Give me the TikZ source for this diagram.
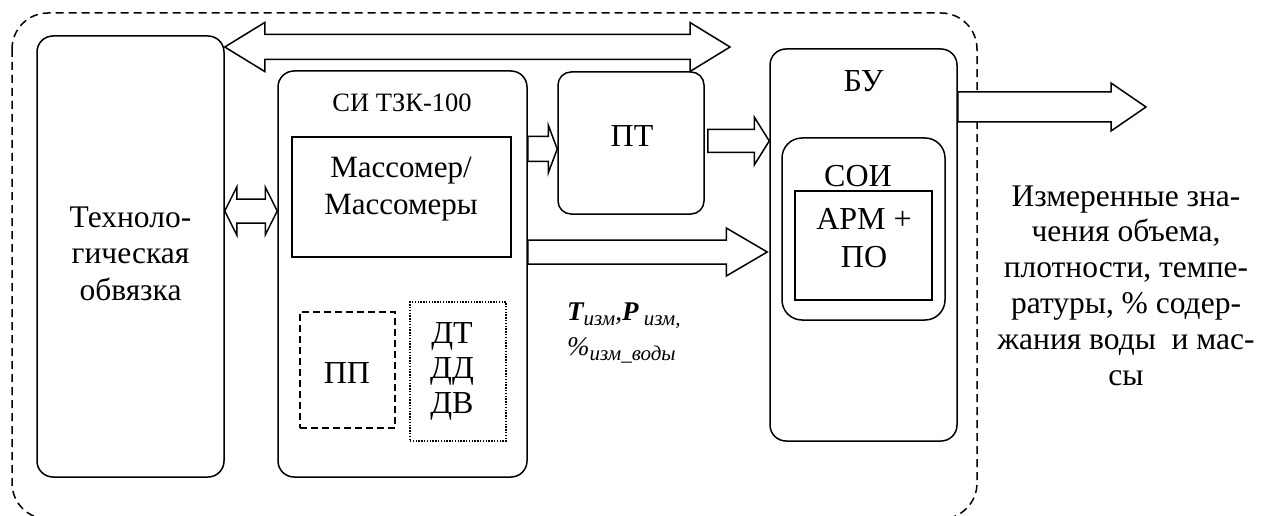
\documentclass[tikz,border=0pt]{standalone}
\usepackage{fontspec}
\setmainfont{Liberation Serif}
\usetikzlibrary{calc}
\newcommand{\fsz}[2]{\fontsize{#1}{#2}\selectfont}
% single block arrow: #1 tail point, #2 tip point, #3 shaft half width, #4 head half width, #5 head length
\newcommand{\harr}[5]{%
  \draw[arr] let \p1=#1, \p2=#2 in
    (\x1,\y2+#3) -- (\x2-#5,\y2+#3) -- (\x2-#5,\y2+#4) -- (\x2,\y2)
    -- (\x2-#5,\y2-#4) -- (\x2-#5,\y2-#3) -- (\x1,\y2-#3) -- cycle;}
% double block arrow
\newcommand{\dharr}[5]{%
  \draw[arr] let \p1=#1, \p2=#2 in
    (\x1,\y1) -- (\x1+#5,\y1+#4) -- (\x1+#5,\y1+#3) -- (\x2-#5,\y1+#3)
    -- (\x2-#5,\y1+#4) -- (\x2,\y1) -- (\x2-#5,\y1-#4) -- (\x2-#5,\y1-#3)
    -- (\x1+#5,\y1-#3) -- (\x1+#5,\y1-#4) -- cycle;}
\tikzset{
  rbox/.style={draw, line width=1.5pt, rounded corners=16pt, inner sep=0pt, fill=white},
  sqbox/.style={draw, line width=1.5pt, inner sep=0pt},
  arr/.style={draw, line width=1.5pt, fill=white, line join=miter, miter limit=10},
  lbl/.style={inner sep=0pt, align=center, anchor=base},
  outer/.style={draw, line width=1.5pt, dash pattern=on 8pt off 5pt, rounded corners=36pt},
}
\begin{document}
\begin{tikzpicture}[x=1pt,y=-1pt]
\useasboundingbox (0,0) rectangle (1264,516);
\clip (0,0) rectangle (1264,516);
% outer dashed border
\draw[outer] (12,13) rectangle (977,519);
% boxes
\node[rbox, minimum width=187pt, minimum height=441pt] (tech) at (130.5,256.5) {};
\node[rbox, minimum width=249pt, minimum height=406pt] (si) at (402.5,274) {};
\node[sqbox, minimum width=219pt, minimum height=120pt] (mass) at (401.5,197) {};
\node[draw, line width=1.5pt, dash pattern=on 7pt off 4pt, inner sep=0pt, minimum width=95pt, minimum height=116pt] (pp) at (347.5,370) {};
\node[draw, line width=1.3pt, dash pattern=on 1.4pt off 1.4pt, inner sep=0pt, minimum width=96pt, minimum height=139pt] (dt) at (458,371.5) {};
\node[rbox, rounded corners=13pt, minimum width=146pt, minimum height=142pt] (pt) at (631,143) {};
\node[rbox, minimum width=187pt, minimum height=392pt] (bu) at (863.5,245) {};
\node[rbox, rounded corners=20pt, minimum width=163pt, minimum height=182pt] (soi) at (863.5,229) {};
\node[sqbox, minimum width=137pt, minimum height=109pt] (arm) at (863.5,245.5) {};
% labels (multi-line nodes: base anchor = last line's baseline)
\node[lbl, font=\fsz{31.5}{36.5}] (techtxt) at (130.5,300) {Техноло-\\гическая\\обвязка};
\node[lbl, font=\fsz{26.5}{30}] (sitxt) at (402,112) {СИ ТЗК-100};
\node[lbl, font=\fsz{31}{36}] (masstxt) at (401,214) {Массомер/\\Массомеры};
\node[lbl, font=\fsz{32}{36}] (pptxt) at (347,383) {ПП};
\node[lbl, font=\fsz{32}{35}] (dttxt) at (452,413) {ДТ\\ДД\\ДВ};
\node[lbl, font=\fsz{32}{36}] (pttxt) at (632,147) {ПТ};
\node[lbl, font=\fsz{32}{36}] (butxt) at (863.5,92) {БУ};
\node[lbl, font=\fsz{32}{36}] (soitxt) at (858,186) {СОИ};
\node[lbl, font=\fsz{32}{38}] (armtxt) at (864,267) {АРМ +\\ПО};
\node[lbl, font=\fsz{31.5}{35.8}] (outtxt) at (1126,385) {Измеренные зна-\\чения объема,\\плотности, темпе-\\ратуры, \% содер-\\жания воды~ и мас-\\сы};
\node[inner sep=0pt, anchor=base west, align=left, font=\fsz{27}{35}\itshape] (meas) at (567,355)
  {\textbf{T}\raisebox{-5pt}{\fsz{21}{21}изм},\textbf{P}\raisebox{-5pt}{\fsz{21}{21} изм,}\\
   \%\raisebox{-5pt}{\fsz{21}{21}изм\_воды}};
% connectors
\coordinate (busend) at (730,47);
\coordinate (outend) at (1146,107);
\dharr{(tech.east |- 0,47)}{(busend)}{12.5pt}{24.5pt}{40pt}
\dharr{(tech.east |- 0,211)}{(si.west |- 0,211)}{12pt}{24pt}{12pt}
\harr{(si.east |- 0,149)}{(pt.west |- 0,149)}{12.5pt}{24pt}{9pt}
\harr{($(pt.east |- 0,141)+(3,0)$)}{(bu.west |- 0,141)}{11.5pt}{24pt}{15pt}
\harr{(si.east |- 0,252)}{($(bu.west |- 0,252)+(-2,0)$)}{12pt}{24pt}{41pt}
\harr{(bu.east |- 0,107)}{(outend)}{15pt}{24pt}{35pt}
\end{tikzpicture}
\end{document}
